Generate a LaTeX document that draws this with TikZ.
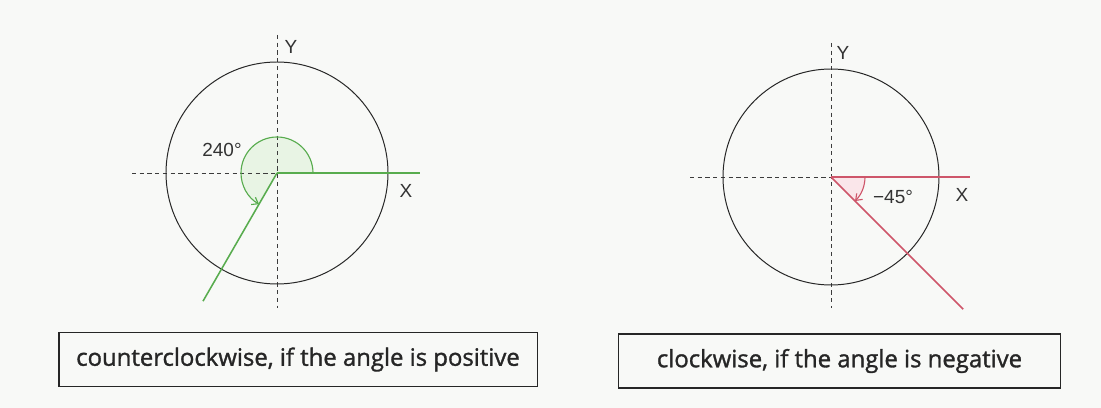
\documentclass[tikz,border=0pt]{standalone}
\usepackage{fontspec}
\usetikzlibrary{arrows.meta}
\setmainfont{Liberation Sans}
\newfontfamily\capfont[FakeBold=1.3]{Open Sans}
\definecolor{paper}{RGB}{248,249,247}
\definecolor{angreen}{RGB}{88,172,78}
\definecolor{angreenfill}{RGB}{232,244,228}
\definecolor{anred}{RGB}{206,86,106}
\definecolor{anredfill}{RGB}{250,230,234}
\definecolor{axisgray}{RGB}{60,60,60}
\tikzset{
  axisline/.style={axisgray, line width=0.7pt, dash pattern=on 3pt off 2.5pt},
  unitcircle/.style={black!85, line width=0.7pt},
  axislabel/.style={font=\fontsize{13.5}{15}\selectfont, text=black!80, inner sep=0pt},
  captionbox/.style={draw=black!85, line width=0.8pt, inner sep=0pt,
    font=\capfont\fontsize{17}{20}\selectfont, text=black!85}
}
\begin{document}
\begin{tikzpicture}[x=0.025cm, y=0.025cm]
  %–– Sfondo ––
  \fill[paper] (0,0) rectangle (1101,408);

  %–– Sinistra: angolo positivo ––
  \coordinate (O1) at (277,235);
  \coordinate (Y1a) at (277,373);
  \coordinate (Y1b) at (277,100);
  \coordinate (X1a) at (132,235);
  \coordinate (X1b) at (420,235);
  \coordinate (T1) at ([shift={(240:148)}]O1);
  % settore
  \fill[angreenfill] (O1) -- ([shift={(0:36)}]O1) arc[start angle=0, end angle=240, radius=36] -- cycle;
  % assi
  \draw[axisline] (Y1a) -- (Y1b);
  \draw[axisline] (X1a) -- (O1);
  % circonferenza
  \draw[unitcircle] (O1) circle[radius=111];
  % lati
  \draw[angreen, line width=1.1pt] (O1) -- (X1b);
  \draw[angreen, line width=1.1pt] (O1) -- (T1);
  \draw[angreen, line width=0.8pt, -{Straight Barb[length=4pt, width=6pt]}]
    ([shift={(0:36)}]O1) arc[start angle=0, end angle=240, radius=36];
  % etichette
  \node[axislabel] (lab240) at (222,258) {240°};
  \node[axislabel] (labY1) at (291,361) {Y};
  \node[axislabel] (labX1) at (406,217) {X};

  %–– Destra: angolo negativo ––
  \coordinate (O2) at (831,231);
  \coordinate (Y2a) at (831,365);
  \coordinate (Y2b) at (831,100);
  \coordinate (X2a) at (690,231);
  \coordinate (X2b) at (970,231);
  \coordinate (T2) at ([shift={(-45:187)}]O2);
  % settore
  \fill[anredfill] (O2) -- ([shift={(0:34)}]O2) arc[start angle=0, end angle=-45, radius=34] -- cycle;
  % assi
  \draw[axisline] (Y2a) -- (Y2b);
  \draw[axisline] (X2a) -- (O2);
  % circonferenza
  \draw[unitcircle] (O2) circle[radius=108];
  % lati
  \draw[anred, line width=1.1pt] (O2) -- (X2b);
  \draw[anred, line width=1.1pt] (O2) -- (T2);
  \draw[anred, line width=0.8pt, -{Straight Barb[length=4pt, width=6pt]}]
    ([shift={(0:34)}]O2) arc[start angle=0, end angle=-45, radius=34];
  % etichette
  \node[axislabel] (lab45) at (893,211) {−45°};
  \node[axislabel] (labY2) at (843,355) {Y};
  \node[axislabel] (labX2) at (962,213) {X};

  %–– Didascalie ––
  \node[captionbox, minimum width=11.95cm, minimum height=1.33cm] (capL) at (298,48.5)
    {counterclockwise, if the angle is positive};
  \node[captionbox, minimum width=11.03cm, minimum height=1.35cm] (capR) at (839.5,47)
    {clockwise, if the angle is negative};
\end{tikzpicture}
\end{document}
